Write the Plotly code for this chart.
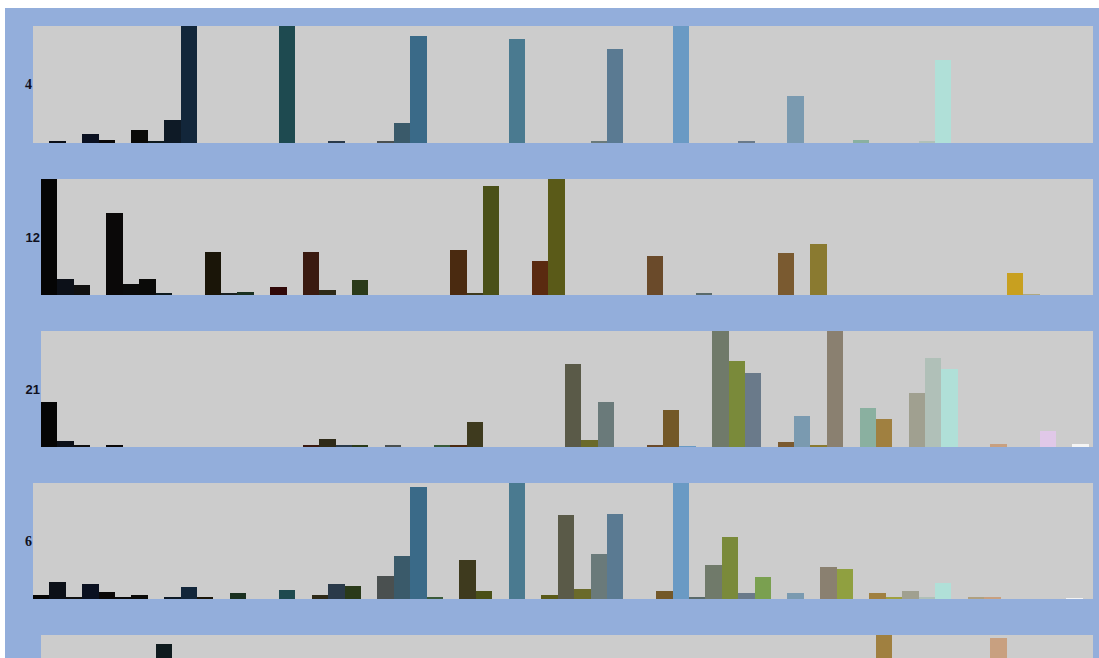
import plotly.graph_objects as go
from plotly.subplots import make_subplots

N_BINS = 64
bins = list(range(N_BINS))

# colour of each histogram bin (shared by all rows)
bin_colors = [
    "#050505", "#0c1018", "#101010", "#0a1020", "#0a0808", "#0a0a0a", "#0a0a08", "#0e1a1e",
    "#0e1a26", "#12263a", "#1a1508", "#1a2020", "#1a3020", "#202828", "#300808", "#1e4a50",
    "#3a1a10", "#2e2a18", "#2a3a4a", "#2a3a1a", "#3a3a3a", "#4a5050", "#3a5a6a", "#3a6a88",
    "#3a5a3a", "#4a2a10", "#3e3a1e", "#4a5018", "#505050", "#4a7a90", "#5a2a10", "#5a5a18",
    "#5a5a48", "#6a6a2a", "#6a7a7a", "#5a7a92", "#606060", "#6a4a2a", "#735828", "#6a9ac4",
    "#5a6a6a", "#707a6a", "#7a8a3a", "#6a7a8a", "#7aa050", "#7a5a30", "#7a9ab0", "#8a7a30",
    "#8a8070", "#90a040", "#8ab0a0", "#a08040", "#a0a040", "#a0a090", "#b0c0b8", "#b0e0d8",
    "#b0b0b0", "#b0a080", "#c8a080", "#c8a020", "#b0a880", "#e0c8e8", "#e0e0e0", "#f4f4f4",
]

def sparse(d):
    return [d.get(i, 0) for i in bins]

row1_values = sparse({1: 0.07, 3: 0.62, 4: 0.23, 6: 0.86, 7: 0.14, 8: 1.6, 9: 8, 15: 8,
                      18: 0.07, 21: 0.07, 22: 1.4, 23: 7.3, 29: 7.1, 34: 0.07, 35: 6.4,
                      39: 8, 43: 0.07, 46: 3.2, 50: 0.2, 54: 0.15, 55: 5.7})
row2_values = sparse({0: 24, 1: 3.4, 2: 2.1, 4: 17.0, 5: 2.3, 6: 3.4, 7: 0.4, 10: 8.9,
                      11: 0.3, 12: 0.7, 14: 1.6, 16: 8.9, 17: 1.1, 19: 3.2, 25: 9.3,
                      26: 0.4, 27: 22.6, 30: 7.1, 31: 24, 37: 8.1, 40: 0.3, 45: 8.6,
                      47: 10.6, 59: 4.5, 60: 0.2})
row3_values = sparse({0: 16.3, 1: 2.0, 2: 0.4, 4: 0.4, 16: 0.4, 17: 2.9, 18: 0.7, 19: 0.4,
                      21: 0.4, 24: 0.4, 25: 0.4, 26: 9.2, 32: 29.9, 33: 2.4, 34: 16.3,
                      37: 0.5, 38: 13.4, 39: 0.3, 41: 42, 42: 31.1, 43: 26.9, 45: 1.9,
                      46: 11.2, 47: 0.9, 48: 42, 50: 14.2, 51: 10.0, 53: 19.7, 54: 32.3,
                      55: 28.1, 58: 1.2, 61: 5.8, 63: 1.2})
row4_values = sparse({0: 0.45, 1: 1.8, 2: 0.15, 3: 1.55, 4: 0.72, 5: 0.25, 6: 0.45, 8: 0.25,
                      9: 1.2, 10: 0.15, 12: 0.6, 15: 0.96, 17: 0.45, 18: 1.55, 19: 1.3,
                      21: 2.4, 22: 4.45, 23: 11.6, 24: 0.15, 26: 4.0, 27: 0.83, 29: 12,
                      31: 0.38, 32: 8.7, 33: 1.07, 34: 4.7, 35: 8.8, 38: 0.83, 39: 12,
                      40: 0.15, 41: 3.5, 42: 6.4, 43: 0.66, 44: 2.3, 46: 0.6, 48: 3.35,
                      49: 3.1, 51: 0.6, 52: 0.15, 53: 0.83, 54: 0.2, 55: 1.7, 57: 0.2,
                      58: 0.2, 63: 0.1})
row5_values = sparse({7: 9.23, 51: 10, 58: 9.72})

rows = [row1_values, row2_values, row3_values, row4_values, row5_values]
row_max = [8, 24, 42, 12, 10]
row_tick = [4, 12, 21, 6, None]
row_font = ["Liberation Serif", "Liberation Sans", "Liberation Sans", "Liberation Serif", "Liberation Sans"]
row_fsize = [14, 13, 13, 14, 13]

# figure is placed at page position (5, 8)
OFFX, OFFY = 5, 8
W, H = 1094, 650
# pixel layout (page coordinates) of each row's plot area
row_top = [26, 179, 331, 483, 635]
row_bot = [143, 295, 447, 599, 752]
row_left = [33, 41, 41, 33, 41]
right = 1093
bin_px = [16.4, 16.37, 16.37, 16.4, 16.37]

fig = make_subplots(rows=5, cols=1)

for k, vals in enumerate(rows):
    r = k + 1
    fig.add_trace(go.Bar(x=bins, y=vals, width=1, marker=dict(color=bin_colors, line=dict(width=0)),
                         showlegend=False, hoverinfo="x+y"), row=r, col=1)
    xa = "xaxis" if r == 1 else f"xaxis{r}"
    ya = "yaxis" if r == 1 else f"yaxis{r}"
    top = row_top[k] - OFFY
    bot = min(row_bot[k] - OFFY, H)
    left = row_left[k] - OFFX
    rgt = right - OFFX
    fig.layout[xa].update(domain=[left / W, rgt / W],
                          range=[-0.5, -0.5 + (rgt - left) / bin_px[k]],
                          showticklabels=False, showgrid=False, zeroline=False, showline=False,
                          fixedrange=True)
    if row_bot[k] - OFFY > H:
        full_h = row_bot[k] - row_top[k]
        vis = (H - top) / full_h
        yrange = [row_max[k] * (1 - vis), row_max[k]]
    else:
        yrange = [0, row_max[k]]
    fig.layout[ya].update(domain=[1 - bot / H, 1 - top / H], range=yrange,
                          showgrid=False, zeroline=False, showline=False, ticks="",
                          tickvals=[row_tick[k]] if row_tick[k] is not None else [],
                          tickfont=dict(family=row_font[k], size=row_fsize[k], color="#101020",
                                        weight="bold"),
                          fixedrange=True)

fig.update_layout(
    width=W, height=H,
    margin=dict(l=0, r=0, t=0, b=0),
    paper_bgcolor="#93aedb",
    plot_bgcolor="#cccccc",
    bargap=0,
)

fig.write_html(
    "out.html",
    post_script="document.body.style.margin='8px 0 0 5px';document.body.style.overflow='hidden';",
)
